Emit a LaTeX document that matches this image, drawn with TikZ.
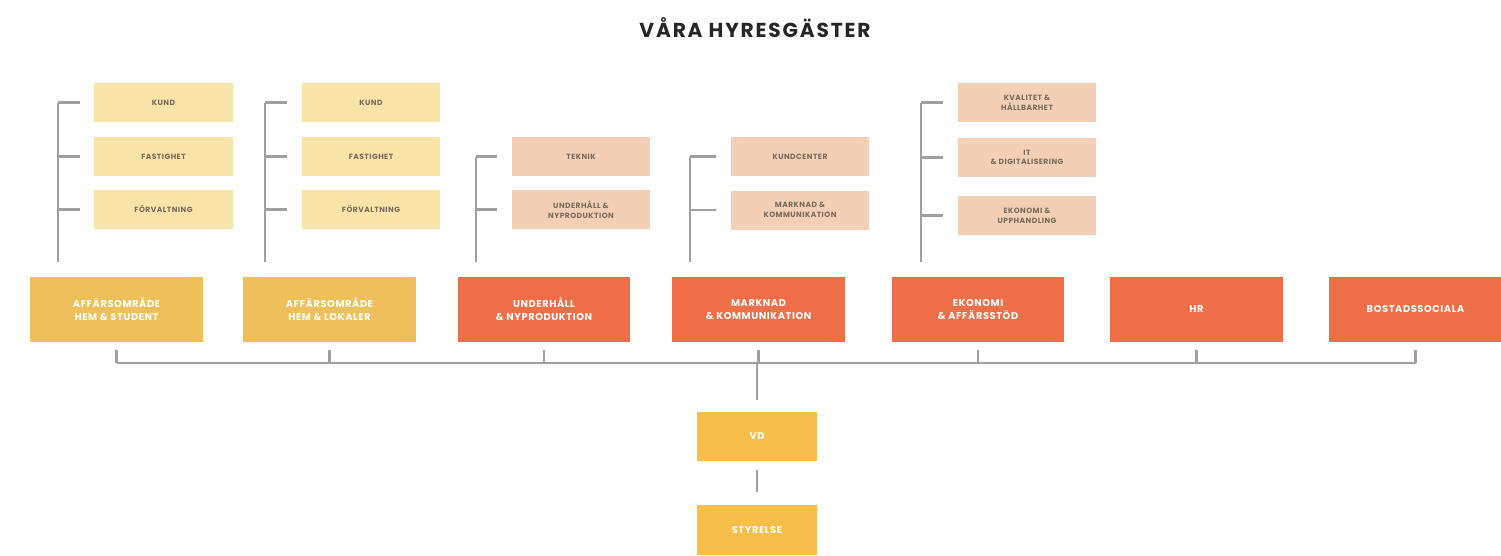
\documentclass[tikz,border=0pt]{standalone}
\usepackage{fontspec}
\setmainfont{Poppins}
\usetikzlibrary{positioning}

\definecolor{subyellow}{HTML}{F8E3A8}
\definecolor{subsalmon}{HTML}{F3CFB6}
\definecolor{mainyellow}{HTML}{EEC05C}
\definecolor{mainorange}{HTML}{EE6E47}
\definecolor{topyellow}{HTML}{F7BE4A}
\definecolor{linegray}{HTML}{A0A0A0}
\definecolor{subtext}{HTML}{7A6A5A}

\tikzset{
  unitbox/.style={minimum width=3.46cm, minimum height=1.3cm, inner sep=0pt,
                  align=center, text=white,
                  font=\bfseries\fontsize{5.6}{7.5}\selectfont\addfontfeature{LetterSpace=6}},
  subbox/.style={minimum width=2.78cm, minimum height=0.78cm, inner sep=0pt,
                 align=center, text=subtext,
                 font=\bfseries\fontsize{4.3}{5.5}\selectfont\addfontfeature{LetterSpace=6}},
  orgline/.style={draw=linegray, line width=1.2pt},
}

\begin{document}
\begin{tikzpicture}[x=0.02cm, y=-0.02cm]
    \useasboundingbox (0, 0) rectangle (1501, 555);

    \node[text=black!85] (title) at (755, 28)
      {\fontsize{11.5}{14}\selectfont\bfseries\addfontfeature{LetterSpace=9}VÅRA HYRESGÄSTER};

    % avdelningar
    \node[unitbox, fill=mainyellow] (m1) at (116.5, 309.5) {AFFÄRSOMRÅDE\\HEM \& STUDENT};
    \node[unitbox, fill=mainyellow] (m2) at (329.5, 309.5) {AFFÄRSOMRÅDE\\HEM \& LOKALER};
    \node[unitbox, fill=mainorange] (m3) at (544, 309.5) {UNDERHÅLL\\\& NYPRODUKTION};
    \node[unitbox, fill=mainorange] (m4) at (758.5, 309.5) {MARKNAD\\\& KOMMUNIKATION};
    \node[unitbox, fill=mainorange] (m5) at (978, 309.5) {EKONOMI\\\& AFFÄRSSTÖD};
    \node[unitbox, fill=mainorange] (m6) at (1196.5, 309.5) {HR};
    \node[unitbox, fill=mainorange] (m7) at (1415.5, 309.5) {BOSTADSSOCIALA};

    \node[unitbox, fill=topyellow, minimum width=2.4cm, minimum height=0.98cm] (vd) at (757, 436.5) {VD};
    \node[unitbox, fill=topyellow, minimum width=2.4cm, minimum height=1cm] (styr) at (757, 530) {STYRELSE};

    % enheter
    \node[subbox, fill=subyellow] (s11) at (163.5, 102.5) {KUND};
    \node[subbox, fill=subyellow] (s12) at (163.5, 156.5) {FASTIGHET};
    \node[subbox, fill=subyellow] (s13) at (163.5, 209.5) {FÖRVALTNING};
    \node[subbox, fill=subyellow] (s21) at (371, 102.5) {KUND};
    \node[subbox, fill=subyellow] (s22) at (371, 156.5) {FASTIGHET};
    \node[subbox, fill=subyellow] (s23) at (371, 209.5) {FÖRVALTNING};
    \node[subbox, fill=subsalmon] (s31) at (581, 156.5) {TEKNIK};
    \node[subbox, fill=subsalmon] (s32) at (581, 209.5) {UNDERHÅLL \&\\NYPRODUKTION};
    \node[subbox, fill=subsalmon] (s41) at (800, 156.5) {KUNDCENTER};
    \node[subbox, fill=subsalmon] (s42) at (800, 210) {MARKNAD \&\\KOMMUNIKATION};
    \node[subbox, fill=subsalmon] (s51) at (1027, 102.5) {KVALITET \&\\HÅLLBARHET};
    \node[subbox, fill=subsalmon] (s52) at (1027, 157.5) {IT\\\& DIGITALISERING};
    \node[subbox, fill=subsalmon] (s53) at (1027, 215.5) {EKONOMI \&\\UPPHANDLING};

    % klamrar
    \coordinate (k1) at (58, 102.5);   \coordinate (k1') at (58, 262);
    \coordinate (k2) at (265, 102.5);  \coordinate (k2') at (265, 262);
    \coordinate (k3) at (476, 156.5);  \coordinate (k3') at (476, 262);
    \coordinate (k4) at (690, 156.5);  \coordinate (k4') at (690, 262);
    \coordinate (k5) at (921, 102.5);  \coordinate (k5') at (921, 262);
    \draw[orgline] (k1) -- (k1');
    \draw[orgline] (k2) -- (k2');
    \draw[orgline] (k3) -- (k3');
    \draw[orgline] (k4) -- (k4');
    \draw[orgline] (k5) -- (k5');
    \foreach \k/\s in {k1/s11, k1/s12, k1/s13, k2/s21, k2/s22, k2/s23,
                       k3/s31, k3/s32, k4/s41, k4/s42, k5/s51, k5/s52, k5/s53}
      \draw[orgline] (\k |- \s.west) -- ([xshift=-0.28cm]\s.west);

    % buss
    \coordinate (bl) at (116.5, 363);
    \coordinate (br) at (1415.5, 363);
    \draw[orgline] (bl) -- (br);
    \foreach \m in {m1, m2, m3, m4, m5, m6, m7}
      \draw[orgline] ([yshift=-0.16cm]\m.south) -- (\m |- bl);
    \draw[orgline] (vd.north |- bl) -- ([yshift=0.24cm]vd.north);
    \draw[orgline] ([yshift=-0.18cm]vd.south) -- ([yshift=0.26cm]styr.north);
  \end{tikzpicture}
\end{document}
